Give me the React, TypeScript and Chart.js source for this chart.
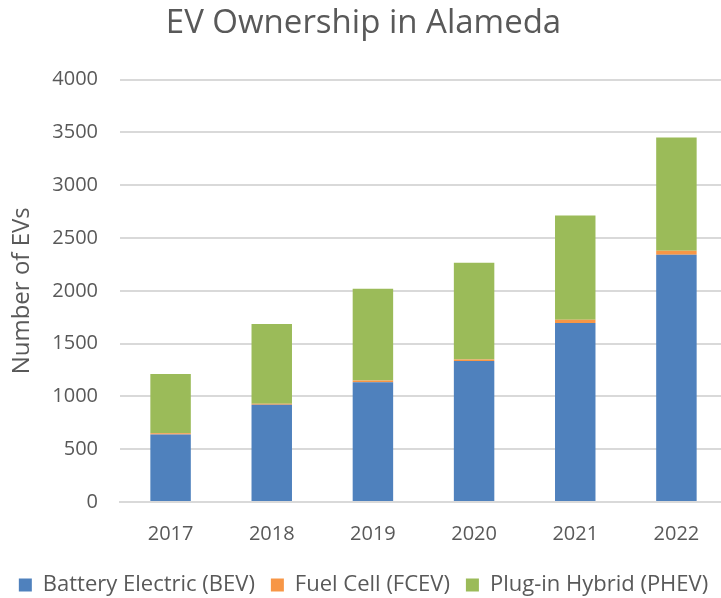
import React, { useEffect, useRef } from "react";
import { Chart, registerables } from "chart.js";

Chart.register(...registerables);

const years = ["2017", "2018", "2019", "2020", "2021", "2022"];
const bev = [640, 920, 1135, 1335, 1695, 2342];
const fcev = [10, 10, 15, 15, 32, 38];
const phev = [563, 755, 870, 915, 986, 1072];

const FONT = "'Open Sans', sans-serif";
const GRAY = "#595959";

export default function App() {
  const ref = useRef<HTMLCanvasElement | null>(null);
  useEffect(() => {
    if (!ref.current) return;
    const chart = new Chart(ref.current, {
      type: "bar",
      data: {
        labels: years,
        datasets: [
          { label: "Battery Electric (BEV)", data: bev, backgroundColor: "#4f81bd" },
          { label: "Fuel Cell (FCEV)", data: fcev, backgroundColor: "#f79646" },
          { label: "Plug-in Hybrid (PHEV)", data: phev, backgroundColor: "#9bbb59" },
        ],
      },
      options: {
        responsive: false,
        animation: false,
        layout: { padding: { left: 0, right: 0, top: 2, bottom: -8 } },
        datasets: { bar: { categoryPercentage: 1, barPercentage: 0.4 } },
        plugins: {
          title: {
            display: true,
            text: "EV Ownership in Alameda",
            color: GRAY,
            font: { family: FONT, size: 33, weight: "normal" },
            padding: { top: 2, bottom: 36 },
          },
          legend: {
            position: "bottom",
            labels: {
              color: GRAY,
              font: { family: FONT, size: 22 },
              boxWidth: 13,
              boxHeight: 13,
              padding: 16,
            },
          },
          tooltip: { enabled: false },
        },
        scales: {
          x: {
            stacked: true,
            grid: { display: false },
            border: { display: true, color: "#d9d9d9", width: 2 },
            ticks: { color: GRAY, font: { family: FONT, size: 20 }, padding: 12 },
          },
          y: {
            stacked: true,
            min: 0,
            max: 4000,
            ticks: {
              stepSize: 500,
              color: GRAY,
              font: { family: FONT, size: 20 },
              padding: 22,
              callback: (v: any) => String(v),
            },
            grid: { color: "#d9d9d9", lineWidth: 2, drawTicks: false },
            border: { display: false },
            title: {
              display: true,
              text: "Number of EVs",
              color: GRAY,
              font: { family: FONT, size: 24 },
              padding: { top: 8, bottom: 10 },
            },
            afterFit: (s: any) => {
              s.width = 120;
            },
          },
        },
      },
    });
    return () => chart.destroy();
  }, []);
  return (
    <div style={{ position: "fixed", left: 0, top: 0, width: 721, height: 598, overflow: "hidden", background: "#fff" }}>
      <canvas ref={ref} width={727} height={598} style={{ display: "block" }} />
    </div>
  );
}
